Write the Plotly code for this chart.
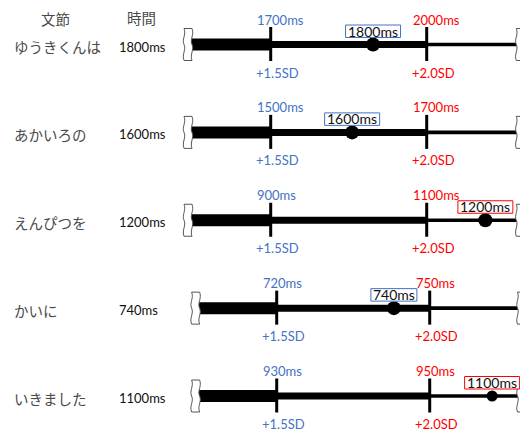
import plotly.graph_objects as go

# ---- data ----
phrases = ["ゆうきくんは", "あかいろの", "えんぴつを", "かいに", "いきました"]
times_ms = [1800, 1600, 1200, 740, 1100]
sd15_ms = [1700, 1500, 900, 720, 930]
sd20_ms = [2000, 1700, 1100, 750, 950]
sd_marks = [1.5, 2.0]
sd_labels = ["+1.5SD", "+2.0SD"]
dot_sd = [1.828, 1.761, 2.188, 1.883, 2.204]
dot_size = [14, 14, 14, 14, 11]
scale_ends = [1.235, 2.30]
row_axis = ["x", "x", "x", "x2", "x2"]
headers = ["文節", "時間"]

BLUE = "#4472C4"
RED = "#FF0000"
OFF = 8                      # default page body margin
W, H = 528 - OFF, 432 - OFF  # figure size so that it ends at the window edge

fig = go.Figure()
shapes = []
ann = []

bracket_path = ("M -4,16 C -1.5,10 -6.5,5 -4,0 C -1.5,-5 -6.5,-10 -4,-16 "
                "L 4,-16 C 1.5,-10 6.5,-5 4,0 C 1.5,5 6.5,10 4,16 Z")

for i, ph in enumerate(phrases):
    ax = row_axis[i]
    segs = [(scale_ends[0], sd_marks[0], 6), (sd_marks[0], sd_marks[1], 3.5), (sd_marks[1], scale_ends[1], 1.8)]
    for a, b, hw in segs:
        shapes.append(dict(type="rect", xref=ax, yref="y", x0=a, x1=b,
                           ysizemode="pixel", yanchor=i, y0=-hw, y1=hw,
                           fillcolor="black", line=dict(width=0), layer="below"))
    for m in sd_marks:
        shapes.append(dict(type="line", xref=ax, yref="y", x0=m, x1=m,
                           ysizemode="pixel", yanchor=i, y0=-16.5, y1=17.5,
                           line=dict(color="black", width=3), layer="below"))
    for e in scale_ends:
        shapes.append(dict(type="path", xref=ax, yref="y", xsizemode="pixel", xanchor=e,
                           ysizemode="pixel", yanchor=i, path=bracket_path,
                           fillcolor="white", line=dict(color="#555555", width=1), layer="above"))
    fig.add_trace(go.Scatter(x=[dot_sd[i]], y=[i], mode="markers", xaxis=ax, yaxis="y",
                             marker=dict(color="black", size=dot_size[i]),
                             hoverinfo="skip", showlegend=False))
    over = times_ms[i] > sd20_ms[i]
    col = RED if over else BLUE
    txt = f"{times_ms[i]}ms"
    hw = (len(txt) * 9 + 1) / 2
    shapes.append(dict(type="rect", xref=ax, yref="y", xsizemode="pixel", xanchor=dot_sd[i],
                       x0=-hw, x1=hw, ysizemode="pixel", yanchor=i, y0=7, y1=19.5,
                       fillcolor="white", line=dict(color=col, width=1), layer="above"))
    ann.append(dict(x=dot_sd[i], y=i, xref=ax, yref="y", text=txt, showarrow=False,
                    yshift=13.5, font=dict(size=14, color="#111111")))
    for m, v, lab, c in [(sd_marks[0], sd15_ms[i], sd_labels[0], BLUE),
                         (sd_marks[1], sd20_ms[i], sd_labels[1], RED)]:
        ann.append(dict(x=m, y=i, xref=ax, yref="y", text=f"{v}ms", showarrow=False,
                        xanchor="left", xshift=-16, yshift=25, font=dict(size=13, color=c)))
        ann.append(dict(x=m, y=i, xref=ax, yref="y", text=lab, showarrow=False,
                        xanchor="left", xshift=-17, yshift=-28, font=dict(size=13, color=c)))
    ann.append(dict(x=(12 - OFF) / W, y=i, xref="paper", yref="y", text=ph, showarrow=False,
                    xanchor="left", yanchor="middle", yshift=-2,
                    font=dict(size=14.5, color="#4a4a4a", family="Noto Sans CJK JP")))
    ann.append(dict(x=(117 - OFF) / W, y=i, xref="paper", yref="y", text=f"{times_ms[i]}ms", showarrow=False,
                    xanchor="left", yanchor="middle", yshift=-2, font=dict(size=13, color="#111111")))

ann.append(dict(x=(55 - OFF) / W, y=1 - (18 - OFF) / H, xref="paper", yref="paper", text=headers[0],
                showarrow=False, xanchor="center", yanchor="middle", borderpad=0,
                font=dict(size=14.5, color="#4a4a4a", family="Noto Sans CJK JP")))
ann.append(dict(x=(141 - OFF) / W, y=1 - (17 - OFF) / H, xref="paper", yref="paper", text=headers[1],
                showarrow=False, xanchor="center", yanchor="middle", borderpad=0,
                font=dict(size=14.5, color="#4a4a4a", family="Noto Sans CJK JP")))

# axis ranges chosen so that the +1.5SD / +2.0SD marks land where the picture has them
t1, t2 = 270.7 - OFF, 276.7 - OFF
r1 = [1.5 - t1 / 312, 1.5 + (W - t1) / 312]
r2 = [1.5 - t2 / 306, 1.5 + (W - t2) / 306]
y_first, y_last = 44.5 - OFF, 396 - OFF
ppu = (y_last - y_first) / 4
yr = [4 + (H - y_last) / ppu, -y_first / ppu]

fig.update_layout(
    width=W, height=H,
    margin=dict(l=0, r=0, t=0, b=0),
    paper_bgcolor="white", plot_bgcolor="white",
    font=dict(family="Lato, Noto Sans CJK JP", size=13),
    xaxis=dict(range=r1, visible=False, domain=[0, 1]),
    xaxis2=dict(range=r2, visible=False, overlaying="x", anchor="y"),
    yaxis=dict(range=yr, visible=False),
    shapes=shapes, annotations=ann, showlegend=False,
)
fig.write_html("out.html")
